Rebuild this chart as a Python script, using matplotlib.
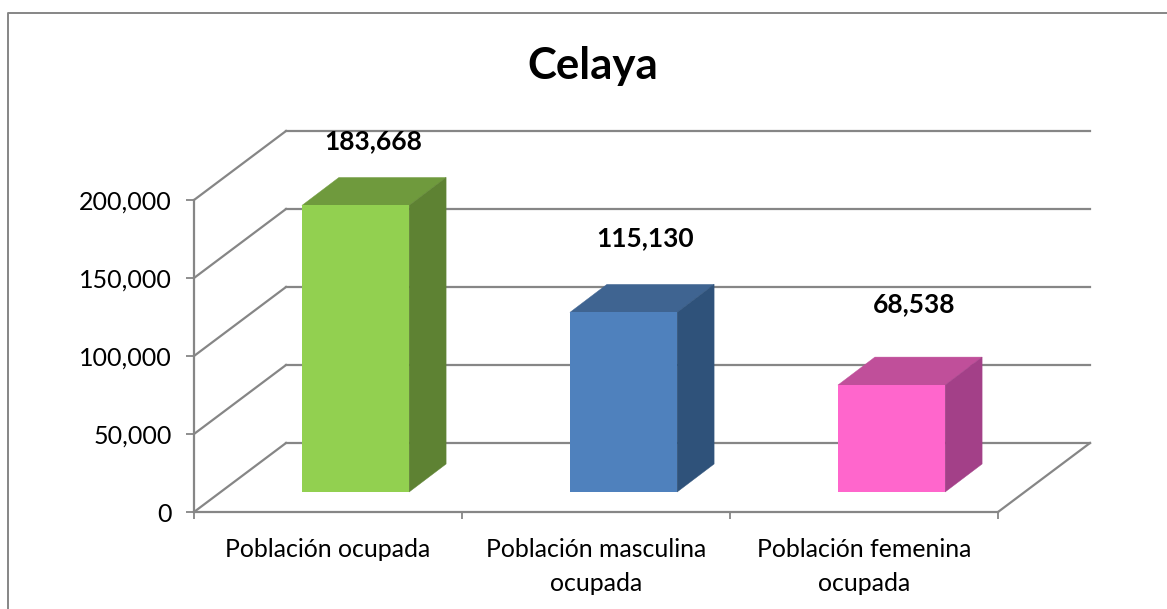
import matplotlib
matplotlib.use("Agg")
import matplotlib.pyplot as plt
from matplotlib.lines import Line2D
from matplotlib.patches import Polygon
from matplotlib.ticker import FuncFormatter
from matplotlib.transforms import Affine2D, IdentityTransform
import numpy as np

# ---- data ----
title = "Celaya"
categories = ["Población ocupada", "Población masculina\nocupada", "Población femenina\nocupada"]
values = [183668, 115130, 68538]
y_ticks = [0, 50000, 100000, 150000, 200000]

# ---- style ----
front_colors = ["#92D050", "#4F81BD", "#FF66CC"]
top_colors = ["#6F9A3D", "#3F6491", "#C04F9A"]
side_colors = ["#5E8233", "#2F527A", "#A34088"]
label_offsets = [(18, 64), (22, 74.5), (23, 81)]
GRAY = "#868686"
W, H = 1167, 609
DPI = 100

plt.rcParams["font.family"] = ["Lato", "DejaVu Sans"]
fig = plt.figure(figsize=(W / DPI, H / DPI), dpi=DPI, facecolor="white")
L, R, T, B = 194, 998, 200, 512
ax = fig.add_axes([L / W, 1 - B / H, (R - L) / W, (B - T) / H])
ax.set_xlim(0, len(categories))
ax.set_ylim(0, 200000)
ax.patch.set_visible(False)

WALL = np.array([92.0, 69.0])      # depth of the chart box, in pixels
BAR_FRONT = np.array([27.5, 20.0]) # offset of a bar's front face
BAR_DEPTH = np.array([37.0, 28.0]) # depth of a bar


def pt(x, y, off=(0.0, 0.0)):
    return ax.transData.transform((x, y)) + np.asarray(off)


def poly(points, color, z):
    ax.add_patch(Polygon(points, closed=True, facecolor=color, edgecolor=color, linewidth=0.3,
                         transform=IdentityTransform(), clip_on=False, zorder=z))


def seg(a, b, z=1, lw=1.6):
    ax.add_line(Line2D([a[0], b[0]], [a[1], b[1]], color=GRAY, linewidth=lw,
                       transform=IdentityTransform(), clip_on=False, zorder=z))


# walls: gridlines on the back, diagonals on the side and floor
n = len(categories)
for v in y_ticks:
    seg(pt(0, v), pt(0, v, WALL))
    seg(pt(0, v, WALL), pt(n, v, WALL))
seg(pt(n, 0), pt(n, 0, WALL))

# bars
width = 0.4
front = ax.transData + Affine2D().translate(*BAR_FRONT)
xs = np.arange(n) + 0.5
ax.bar(xs, values, width=width, color=front_colors, transform=front, clip_on=False, zorder=5)
for x, v, tc, sc, (ox, oy) in zip(xs, values, top_colors, side_colors, label_offsets):
    x0, x1 = x - width / 2, x + width / 2
    poly([pt(x0, v, BAR_FRONT), pt(x1, v, BAR_FRONT),
          pt(x1, v, BAR_FRONT + BAR_DEPTH), pt(x0, v, BAR_FRONT + BAR_DEPTH)], tc, 4)
    poly([pt(x1, 0, BAR_FRONT), pt(x1, v, BAR_FRONT),
          pt(x1, v, BAR_FRONT + BAR_DEPTH), pt(x1, 0, BAR_FRONT + BAR_DEPTH)], sc, 4)
    ax.annotate(f"{v:,}", xy=(x, v), xycoords="data",
                xytext=(BAR_FRONT[0] + ox, BAR_FRONT[1] + oy), textcoords="offset pixels",
                ha="center", va="center", fontsize=19, fontweight="bold", color="black", zorder=6)

# axes
for s in ("top", "right"):
    ax.spines[s].set_visible(False)
for s in ("left", "bottom"):
    ax.spines[s].set_color(GRAY)
    ax.spines[s].set_linewidth(1.6)
ax.set_yticks(y_ticks)
ax.yaxis.set_major_formatter(FuncFormatter(lambda v, _: f"{int(v):,}"))
ax.tick_params(axis="y", length=5.5, width=1.3, color=GRAY, labelsize=18, pad=10.5, labelcolor="black")
ax.set_xticks(np.arange(n + 1))
ax.set_xticklabels([])
ax.set_xticks(xs, minor=True)
ax.set_xticklabels(categories, minor=True, fontsize=17.9, linespacing=1.62, color="black")
ax.tick_params(axis="x", which="major", length=5, width=1.3, color=GRAY)
ax.tick_params(axis="x", which="minor", length=0, pad=18.5)

fig.text(592.5 / W, 1 - 66 / H, title, ha="center", va="center", fontsize=31.5, fontweight="bold", color="black")

# chart frame
fig.add_artist(Line2D([7.5 / W, 7.5 / W, 1], [0, 1 - 12.5 / H, 1 - 12.5 / H],
                      color=GRAY, linewidth=1.4, transform=fig.transFigure))

fig.savefig("out.png", dpi=DPI)
